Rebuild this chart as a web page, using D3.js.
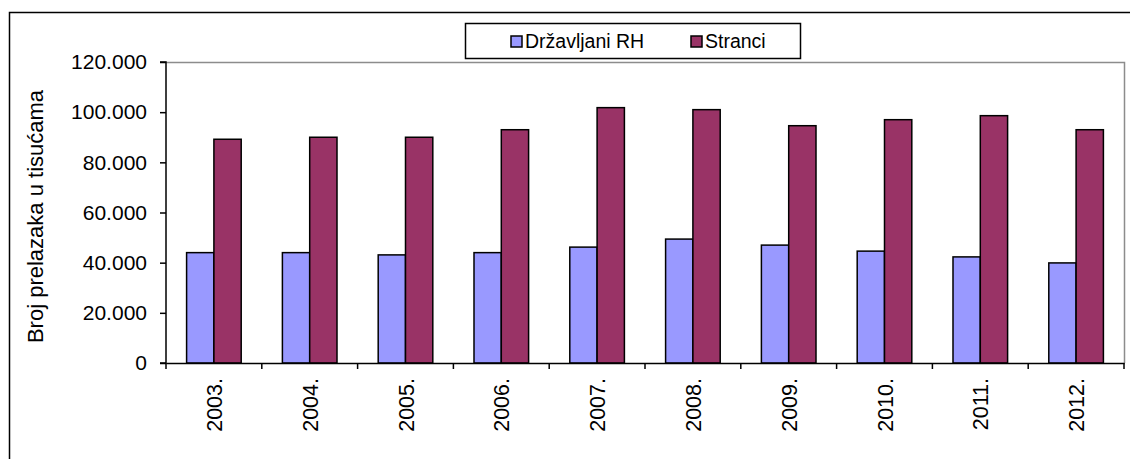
<!DOCTYPE html>
<html>
<head>
<meta charset="utf-8">
<script src="https://cdn.jsdelivr.net/npm/d3@7"></script>
<style>
  html, body { margin: 0; padding: 0; background: #fff; }
  svg { display: block; font-family: "Liberation Sans", Arial, sans-serif; }
</style>
</head>
<body>
<div id="chart"></div>
<script>
const years = ["2003.", "2004.", "2005.", "2006.", "2007.", "2008.", "2009.", "2010.", "2011.", "2012."];
const drzavljani = [44.0, 44.0, 43.1, 44.0, 46.2, 49.4, 47.0, 44.6, 42.3, 39.9];
const stranci = [89.2, 90.0, 90.0, 93.0, 101.8, 101.0, 94.6, 97.0, 98.6, 93.0];
const seriesNames = ["Državljani RH", "Stranci"];
const colors = ["#9999ff", "#993366"];
const yTicks = [0, 20, 40, 60, 80, 100, 120];

const width = 1130;
const height = 459;
const plot = { left: 166, right: 1124, top: 62, bottom: 363 };

const data = years.map((y, i) => ({ year: y, values: [drzavljani[i], stranci[i]] }));

const svg = d3.select("#chart").append("svg")
  .attr("width", width).attr("height", height);

// outer frame (runs off the right and bottom of the picture)
svg.append("rect")
  .attr("x", 9.5).attr("y", 12.5)
  .attr("width", width + 20).attr("height", height + 20)
  .attr("fill", "none").attr("stroke", "#000").attr("stroke-width", 1.5);

const x = d3.scaleBand(years, [plot.left, plot.right]);
const bw = x.bandwidth() * 0.285;
const xInner = d3.scaleBand([0, 1], [0, bw * 2]);
const y = d3.scaleLinear([0, 120], [plot.bottom, plot.top]);

// plot area border (grey top/right)
svg.append("path")
  .attr("d", `M${plot.left},${plot.top + 0.5}H${plot.right + 0.5}V${plot.bottom}`)
  .attr("fill", "none").attr("stroke", "#8c8c8c").attr("stroke-width", 1.5);

const groups = svg.append("g").selectAll("g")
  .data(data)
  .join("g")
  .attr("transform", d => `translate(${x(d.year) + x.bandwidth() / 2 - bw},0)`);

groups.selectAll("rect")
  .data(d => d.values)
  .join("rect")
  .attr("x", (d, i) => xInner(i))
  .attr("y", d => y(d))
  .attr("width", xInner.bandwidth())
  .attr("height", d => y(0) - y(d))
  .attr("fill", (d, i) => colors[i])
  .attr("stroke", "#000")
  .attr("stroke-width", 1.5);

// y axis
const yAxis = d3.axisLeft(y)
  .tickValues(yTicks)
  .tickSize(6)
  .tickPadding(13)
  .tickFormat(d => d === 0 ? "0" : d3.format(".3f")(d).replace(",", "."));
svg.append("g")
  .attr("transform", `translate(${plot.left},0)`)
  .call(yAxis)
  .call(g => g.selectAll("path, line").attr("stroke", "#000").attr("stroke-width", 1.5))
  .call(g => g.select(".domain").attr("d", `M-6,${plot.top}H0V${plot.bottom}H-6`))
  .call(g => g.selectAll("text").attr("fill", "#000").style("font-size", "21px"));

// x axis with ticks at category boundaries
const xAxis = d3.axisBottom(x).tickSize(0).tickSizeOuter(0).tickFormat("");
const xg = svg.append("g")
  .attr("transform", `translate(0,${plot.bottom})`)
  .call(xAxis);
xg.select(".domain").attr("stroke", "#000").attr("stroke-width", 1.5);
xg.selectAll(".bound")
  .data(years.concat(["end"]))
  .join("line")
  .attr("class", "bound")
  .attr("x1", (d, i) => i < years.length ? x(d) : plot.right)
  .attr("x2", (d, i) => i < years.length ? x(d) : plot.right)
  .attr("y1", 0).attr("y2", 6)
  .attr("stroke", "#000").attr("stroke-width", 1.5);

svg.append("g").selectAll("text")
  .data(years)
  .join("text")
  .attr("transform", d => `translate(${x(d) + x.bandwidth() / 2 + 8},${plot.bottom + 15}) rotate(-90)`)
  .attr("text-anchor", "end")
  .style("font-size", "21.5px")
  .text(d => d);

// y title
svg.append("text")
  .attr("transform", "translate(43,216.5) rotate(-90)")
  .attr("text-anchor", "middle")
  .style("font-size", "22px")
  .text("Broj prelazaka u tisućama");

// legend
const legend = svg.append("g").attr("transform", "translate(465,23)");
legend.append("rect")
  .attr("x", 0.5).attr("y", 0.5).attr("width", 335).attr("height", 35)
  .attr("fill", "#fff").attr("stroke", "#000").attr("stroke-width", 1.5);
const legendX = [46, 226];
const items = legend.selectAll("g.item")
  .data(seriesNames)
  .join("g")
  .attr("class", "item")
  .attr("transform", (d, i) => `translate(${legendX[i]},0)`);
items.append("rect")
  .attr("x", 0).attr("y", 13).attr("width", 11).attr("height", 11)
  .attr("fill", (d, i) => colors[i])
  .attr("stroke", "#000").attr("stroke-width", 1.5);
items.append("text")
  .attr("x", 14).attr("y", 25)
  .style("font-size", "19.5px")
  .text(d => d);
</script>
</body>
</html>
